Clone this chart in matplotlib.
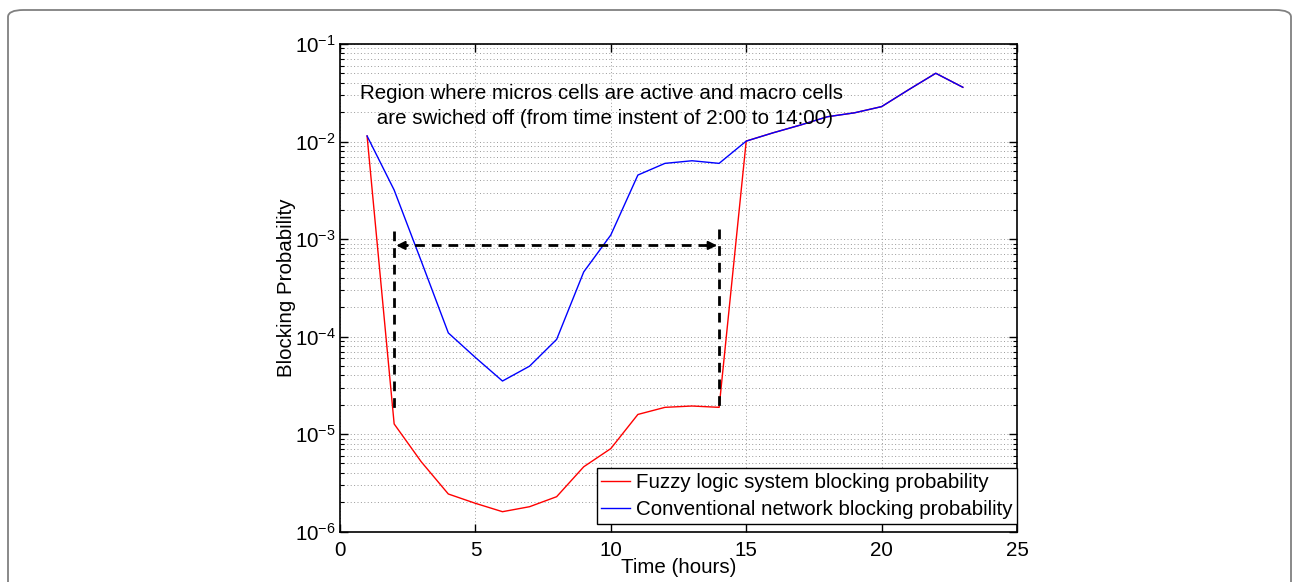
import matplotlib
matplotlib.use("Agg")
import matplotlib.pyplot as plt
import numpy as np
from matplotlib.patches import FancyBboxPatch
from matplotlib.ticker import LogLocator, NullFormatter, FixedLocator

plt.rcParams['font.family'] = ['Liberation Sans', 'DejaVu Sans']
plt.rcParams['mathtext.fontset'] = 'custom'
plt.rcParams['mathtext.rm'] = 'Liberation Sans'
plt.rcParams['mathtext.it'] = 'Liberation Sans:italic'
plt.rcParams['mathtext.bf'] = 'Liberation Sans:bold'

# ---- data ----
hours = [1, 2, 3, 4, 5, 6, 7, 8, 9, 10, 11, 12, 13, 14, 15, 16, 17, 18, 19, 20, 21, 22, 23]
fuzzy = [1.14e-2, 1.27e-5, 5.2e-6, 2.43e-6, 1.95e-6, 1.6e-6, 1.8e-6, 2.28e-6, 4.62e-6,
         7.1e-6, 1.59e-5, 1.88e-5, 1.94e-5, 1.88e-5, 1.01e-2, 1.23e-2, 1.475e-2,
         1.795e-2, 1.97e-2, 2.28e-2, 3.4e-2, 5.01e-2, 3.6e-2]
conventional = [1.14e-2, 3.18e-3, 5.94e-4, 1.09e-4, 6.1e-5, 3.5e-5, 4.97e-5, 9.35e-5, 4.6e-4,
                1.1e-3, 4.53e-3, 5.97e-3, 6.35e-3, 5.97e-3, 1.01e-2, 1.23e-2, 1.475e-2,
                1.795e-2, 1.97e-2, 2.28e-2, 3.4e-2, 5.01e-2, 3.6e-2]
labels = ["Fuzzy logic system blocking probability",
          "Conventional network blocking probability"]
x_ticks = [0, 5, 10, 15, 20, 25]
annotation = ("Region where micros cells are active and macro cells\n"
              " are swiched off (from time instent of 2:00 to 14:00)")
region_start, region_end = 2, 14
arrow_level = 8.6e-4
left_marker = (1.21e-3, 1.64e-5)
right_marker = (1.27e-3, 1.85e-5)

FS = 14.8

fig = plt.figure(figsize=(12.92, 5.82), dpi=100)

# outer rounded frame
frame = FancyBboxPatch((8 / 1292, -0.05), (1291 - 8) / 1292, (582 - 10) / 582 + 0.05,
                       boxstyle="round,pad=0,rounding_size=0.012",
                       transform=fig.transFigure, facecolor='none',
                       edgecolor='#808080', linewidth=1.3, clip_on=False)
fig.patches.append(frame)

ax = fig.add_axes([340 / 1292, 1 - 531.6 / 582, (1017 - 340) / 1292, (531.6 - 44) / 582])

ax.plot(hours, fuzzy, color='red', lw=1.0, label=labels[0])
ax.plot(hours, conventional, color='blue', lw=1.0, label=labels[1])

ax.set_yscale('log')
ax.set_xlim(0, 25)
ax.set_ylim(1e-6, 1e-1)
ax.xaxis.set_major_locator(FixedLocator(x_ticks))
ax.yaxis.set_major_locator(LogLocator(base=10, numticks=10))
ax.yaxis.set_minor_locator(LogLocator(base=10, subs=np.arange(2, 10), numticks=20))
ax.yaxis.set_minor_formatter(NullFormatter())

grid_kw = dict(color='#9a9a9a', linestyle=(0, (1, 2.5)), linewidth=0.7)
ax.grid(True, which='major', axis='both', **grid_kw)
ax.grid(True, which='minor', axis='y', **grid_kw)
ax.set_axisbelow(True)

ax.tick_params(which='both', direction='in', top=True, right=True, labelsize=FS)
ax.tick_params(which='major', length=6, width=1)
ax.tick_params(which='minor', length=3, width=0.8)
ax.tick_params(axis='x', pad=7)
ax.tick_params(axis='y', pad=3)
for s in ax.spines.values():
    s.set_linewidth(1.2)

ax.set_xlabel("Time (hours)", fontsize=FS, labelpad=-2)
ax.set_ylabel("Blocking Probability", fontsize=FS, labelpad=-1)

# dashed region markers
dash = dict(color='black', lw=2.0, linestyle=(0, (3.5, 2.5)))
ax.plot([region_start, region_start], list(left_marker), **dash)
ax.plot([region_end, region_end], list(right_marker), **dash)
ax.plot([region_start + 0.15, region_end - 0.15], [arrow_level, arrow_level], **dash)
head = dict(arrowstyle='-|>,head_length=0.5,head_width=0.25', color='black', lw=1.5,
            shrinkA=0, shrinkB=0)
ax.annotate('', xy=(region_start + 0.08, arrow_level), xytext=(region_start + 0.5, arrow_level),
            arrowprops=head)
ax.annotate('', xy=(region_end - 0.08, arrow_level), xytext=(region_end - 0.5, arrow_level),
            arrowprops=head)

ax.text(9.67, 2.3e-2, annotation, ha='center', va='center', fontsize=FS,
        multialignment='center', linespacing=1.4)

leg = ax.legend(loc='lower right', bbox_to_anchor=(1.0, 8 / 487.6), borderaxespad=0,
                fontsize=FS, fancybox=False, framealpha=1, edgecolor='black',
                handlelength=1.4, handletextpad=0.3, labelspacing=0.4, borderpad=0.22)
leg.get_frame().set_linewidth(1.0)

fig.savefig("out.png", dpi=100)
